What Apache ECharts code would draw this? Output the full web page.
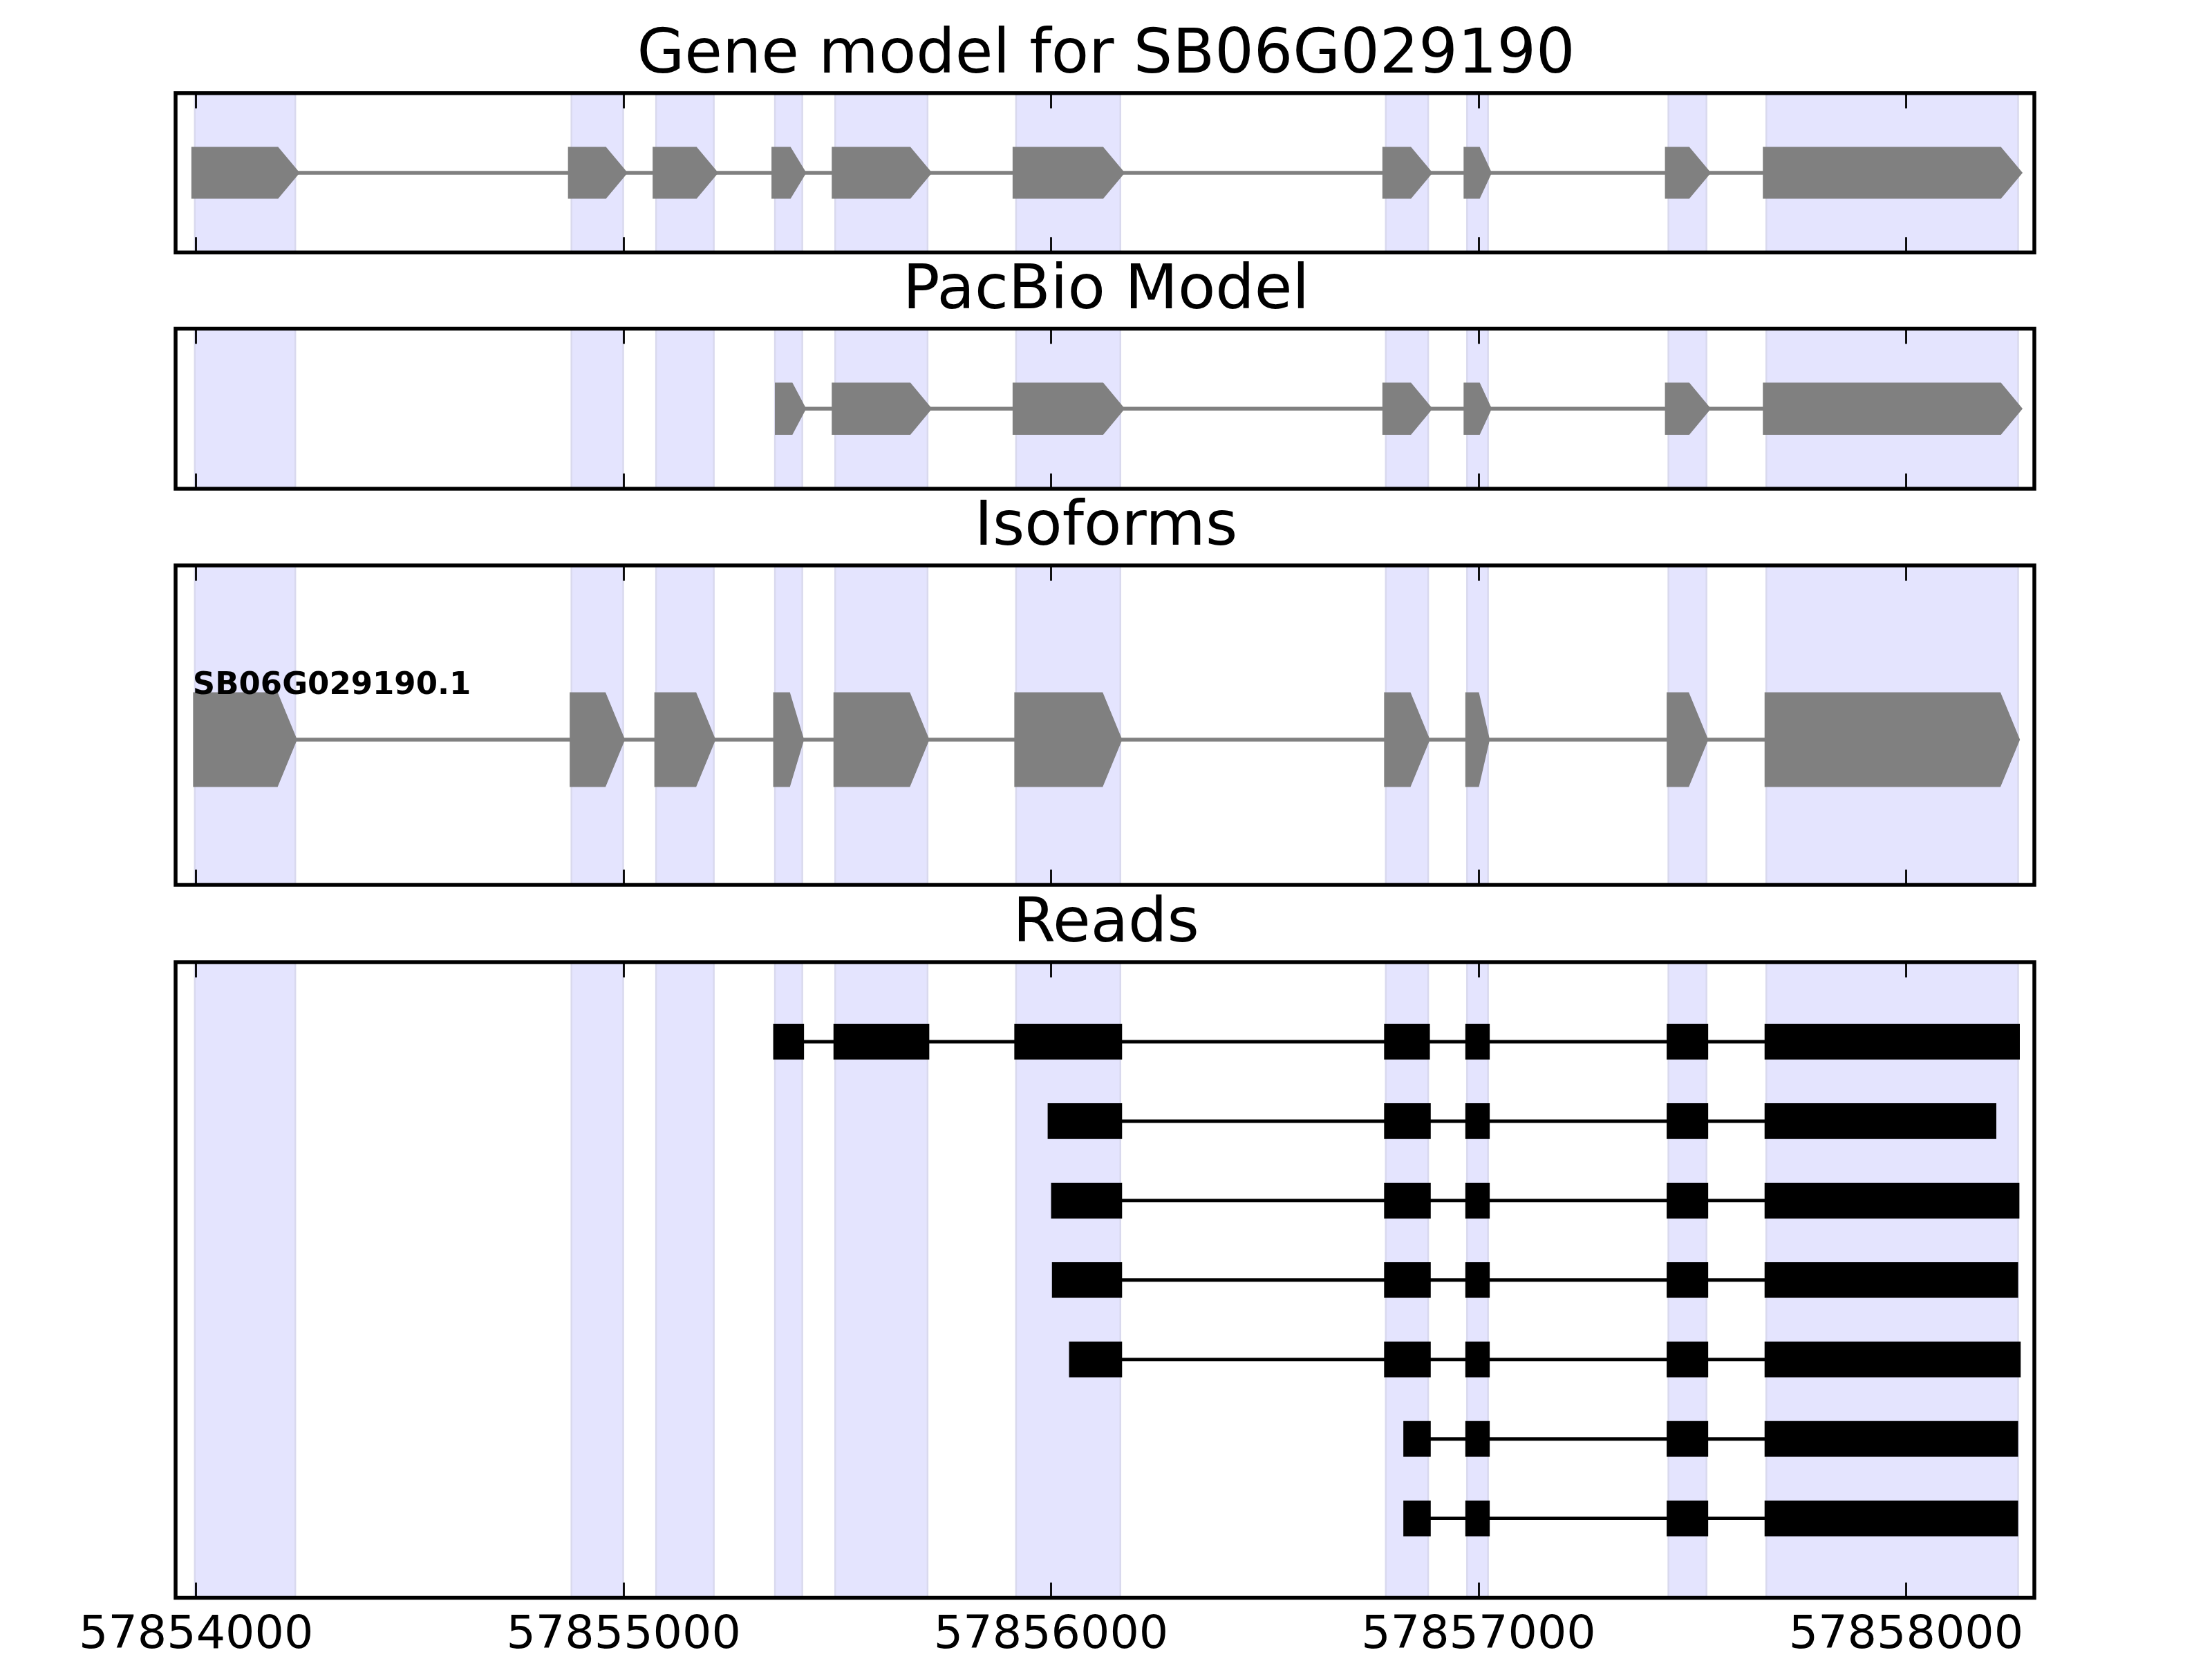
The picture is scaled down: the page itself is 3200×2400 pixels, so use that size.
<!DOCTYPE html>
<html>
<head>
<meta charset="utf-8">
<script src="https://cdn.jsdelivr.net/npm/echarts@6/dist/echarts.min.js"></script>
<style>html,body{margin:0;padding:0;background:#fff}#c{width:3200px;height:2400px}</style>
</head>
<body>
<div id="c"></div>
<script>
// ---------------- data ----------------
const xRange = [57853952, 57858300];
const tickValues = [57854000, 57855000, 57856000, 57857000, 57858000];
const panelTitles = ['Gene model for SB06G029190', 'PacBio Model', 'Isoforms', 'Reads'];

const geneExonStarts = [57853997, 57854878, 57855076, 57855354, 57855495, 57855918, 57856783, 57856973, 57857444, 57857673];
const geneExonEnds   = [57854232, 57854999, 57855211, 57855418, 57855711, 57856162, 57856882, 57857022, 57857533, 57858262];

const pacbioExonStarts = [57855362, 57855495, 57855918, 57856783, 57856973, 57857444, 57857673];
const pacbioExonEnds   = [57855418, 57855711, 57856162, 57856882, 57857022, 57857533, 57858262];

const isoformName = 'SB06G029190.1';
const isoformExonStarts = [57853997, 57854878, 57855076, 57855354, 57855495, 57855918, 57856783, 57856973, 57857444, 57857673];
const isoformExonEnds   = [57854232, 57854999, 57855211, 57855418, 57855711, 57856162, 57856882, 57857022, 57857533, 57858262];

const read1 = [[57855354,57855418],[57855495,57855711],[57855918,57856162],[57856783,57856882],[57856973,57857022],[57857444,57857533],[57857673,57858262]];
const read2 = [[57855996,57856162],[57856783,57856884],[57856973,57857022],[57857444,57857533],[57857673,57858207]];
const read3 = [[57856004,57856162],[57856783,57856884],[57856973,57857022],[57857444,57857533],[57857673,57858261]];
const read4 = [[57856006,57856162],[57856783,57856884],[57856973,57857022],[57857444,57857533],[57857673,57858258]];
const read5 = [[57856046,57856162],[57856783,57856884],[57856973,57857022],[57857444,57857533],[57857673,57858264]];
const read6 = [[57856828,57856884],[57856973,57857022],[57857444,57857533],[57857673,57858258]];
const read7 = [[57856828,57856884],[57856973,57857022],[57857444,57857533],[57857673,57858258]];
const reads = [read1, read2, read3, read4, read5, read6, read7];

// ---------------- layout / style ----------------
const grids = [
  {left: 254, width: 2689, top: 134.7, height: 230.5},
  {left: 254, width: 2689, top: 475.5, height: 231.5},
  {left: 254, width: 2689, top: 818,   height: 462},
  {left: 254, width: 2689, top: 1392,  height: 920}
];
const yRanges = [[-1, 1], [-1, 1], [-1, 1.2], [0, 8]];
const FONT = 'DejaVu Sans';
const shadeFill = '#e4e4fe';
const shadeEdge = '#d9d9ee';

const chart = echarts.init(document.getElementById('c'), null, {renderer: 'canvas'});

const xAxes = [];
const yAxes = [];
grids.forEach((g, i) => {
  ['bottom', 'top'].forEach(pos => {
    xAxes.push({
      type: 'value', gridIndex: i, min: xRange[0], max: xRange[1], position: pos, z: 6,
      axisLine: {show: false, onZero: false}, splitLine: {show: false},
      axisTick: {show: true, inside: true, length: 22, customValues: tickValues,
                 lineStyle: {color: '#000', width: 2.8}},
      axisLabel: {show: (i === 3 && pos === 'bottom'), customValues: tickValues,
                  fontSize: 66.7, fontFamily: FONT, color: '#000', margin: 55,
                  verticalAlign: 'middle', formatter: v => String(v)}
    });
  });
  yAxes.push({type: 'value', gridIndex: i, min: yRanges[i][0], max: yRanges[i][1],
              inverse: i === 3, show: false});
});

function shading(i) {
  return {
    type: 'custom', xAxisIndex: 2 * i, yAxisIndex: i, z: 1, silent: true,
    data: geneExonStarts.map((s, k) => [s, geneExonEnds[k]]),
    renderItem: (params, api) => {
      const cs = params.coordSys;
      const x0 = api.coord([api.value(0), 0])[0];
      const x1 = api.coord([api.value(1), 0])[0];
      return {type: 'rect', shape: {x: x0, y: cs.y, width: x1 - x0, height: cs.height},
              style: {fill: shadeFill, stroke: shadeEdge, lineWidth: 2.5}};
    }
  };
}

function arrowExons(i, starts, ends, yc, h, strokeW) {
  return {
    type: 'custom', xAxisIndex: 2 * i, yAxisIndex: i, z: 4, silent: true,
    data: starts.map((s, k) => [s, ends[k]]),
    renderItem: (params, api) => {
      const s = api.value(0), e = api.value(1);
      const a = Math.min(44, (e - s) / 2);
      const pts = [[s, yc + h], [e - a, yc + h], [e, yc], [e - a, yc - h], [s, yc - h]].map(p => api.coord(p));
      return {type: 'polygon', shape: {points: pts},
              style: {fill: '#808080', stroke: '#808080', lineWidth: strokeW, lineJoin: 'miter', miterLimit: 10}};
    }
  };
}

function lineSeries(i, items, color, w) {
  return {
    type: 'custom', xAxisIndex: 2 * i, yAxisIndex: i, z: 3, silent: true,
    data: items,
    renderItem: (params, api) => {
      const p0 = api.coord([api.value(0), api.value(2)]);
      const p1 = api.coord([api.value(1), api.value(2)]);
      return {type: 'line', shape: {x1: p0[0], y1: p0[1], x2: p1[0], y2: p1[1]},
              style: {stroke: color, lineWidth: w}};
    }
  };
}

function rectExons(i, items, h, color, strokeW) {
  return {
    type: 'custom', xAxisIndex: 2 * i, yAxisIndex: i, z: 4, silent: true,
    data: items,
    renderItem: (params, api) => {
      const p0 = api.coord([api.value(0), api.value(2) - h]);
      const p1 = api.coord([api.value(1), api.value(2) + h]);
      return {type: 'rect',
              shape: {x: Math.min(p0[0], p1[0]), y: Math.min(p0[1], p1[1]),
                      width: Math.abs(p1[0] - p0[0]), height: Math.abs(p1[1] - p0[1])},
              style: {fill: color, stroke: color, lineWidth: strokeW, lineJoin: 'miter'}};
    }
  };
}

const series = [];
for (let i = 0; i < 4; i++) series.push(shading(i));

// gene model
const GH = 0.282;
series.push(lineSeries(0, [[geneExonStarts[0], geneExonEnds[geneExonEnds.length - 1], 0]], '#808080', 5.5));
series.push(arrowExons(0, geneExonStarts, geneExonEnds, 0, GH, 10));
// pacbio
series.push(lineSeries(1, [[pacbioExonStarts[0], pacbioExonEnds[pacbioExonEnds.length - 1], 0]], '#808080', 5.5));
series.push(arrowExons(1, pacbioExonStarts, pacbioExonEnds, 0, GH, 10));
// isoform
const IH = 0.314;
series.push(lineSeries(2, [[isoformExonStarts[0], isoformExonEnds[isoformExonEnds.length - 1], 0]], '#808080', 5.5));
series.push(arrowExons(2, isoformExonStarts, isoformExonEnds, 0, IH, 5));
series.push({
  type: 'custom', xAxisIndex: 4, yAxisIndex: 2, z: 5, silent: true,
  data: [[isoformExonStarts[0], IH]],
  renderItem: (params, api) => {
    const p = api.coord([api.value(0), api.value(1)]);
    return {type: 'text', x: p[0] - 3, y: p[1] - 12,
            style: {text: isoformName, fill: '#000', fontSize: 45, fontWeight: 'bold',
                    fontFamily: FONT, align: 'left', verticalAlign: 'middle'}};
  }
});
// reads
const RH = 0.203;
const readLines = reads.map((r, k) => [r[0][0], r[r.length - 1][1], k + 1]);
const readExons = [];
reads.forEach((r, k) => r.forEach(ex => readExons.push([ex[0], ex[1], k + 1])));
series.push(lineSeries(3, readLines, '#000', 5));
series.push(rectExons(3, readExons, RH, '#000', 5));

chart.setOption({
  animation: false,
  backgroundColor: '#fff',
  title: panelTitles.map((t, i) => ({
    text: t, left: 'center', top: grids[i].top - 97.5, padding: 0,
    textStyle: {fontSize: 88.9, fontWeight: 'normal', fontFamily: FONT, color: '#000'}
  })),
  grid: grids.map(g => Object.assign({}, g, {show: true, z: 5, borderColor: '#000', borderWidth: 5.5,
                                               backgroundColor: 'rgba(0,0,0,0)'})),
  xAxis: xAxes,
  yAxis: yAxes,
  series: series
});
</script>
</body>
</html>
